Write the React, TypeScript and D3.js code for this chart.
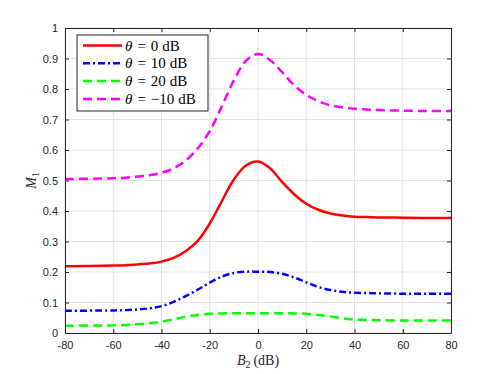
import React, { useEffect, useRef } from 'react';
import * as d3 from 'd3';

// --- Data ---
const b2Values = [-80, -60, -55, -50, -45, -40, -35, -30, -25, -20, -15, -10, -5, 0, 5, 10, 15, 20, 25, 30, 35, 40, 45, 50, 60, 70, 80];
const theta0 = [0.219, 0.221, 0.222, 0.225, 0.228, 0.234, 0.246, 0.268, 0.302, 0.359, 0.432, 0.503, 0.549, 0.562, 0.540, 0.495, 0.455, 0.424, 0.404, 0.392, 0.385, 0.381, 0.380, 0.379, 0.378, 0.377, 0.377];
const theta10 = [0.073, 0.074, 0.075, 0.077, 0.081, 0.088, 0.102, 0.121, 0.142, 0.165, 0.185, 0.197, 0.201, 0.201, 0.200, 0.194, 0.182, 0.166, 0.151, 0.141, 0.135, 0.132, 0.131, 0.130, 0.129, 0.129, 0.129];
const theta20 = [0.024, 0.025, 0.026, 0.029, 0.032, 0.037, 0.045, 0.053, 0.059, 0.063, 0.064, 0.065, 0.065, 0.065, 0.065, 0.065, 0.064, 0.063, 0.059, 0.054, 0.048, 0.044, 0.043, 0.042, 0.041, 0.041, 0.041];
const thetaMinus10 = [0.505, 0.507, 0.509, 0.513, 0.517, 0.525, 0.540, 0.565, 0.605, 0.662, 0.743, 0.828, 0.892, 0.915, 0.895, 0.855, 0.812, 0.781, 0.760, 0.747, 0.740, 0.735, 0.733, 0.731, 0.729, 0.728, 0.728];
const seriesLabels = ['0', '10', '20', '\u221210'];
const xTicks = [-80, -60, -40, -20, 0, 20, 40, 60, 80];
const yTicks = [0, 0.1, 0.2, 0.3, 0.4, 0.5, 0.6, 0.7, 0.8, 0.9, 1];

const seriesStyles = [
  { color: '#ff0000', dash: null },
  { color: '#0000ff', dash: '7,3,2,3' },
  { color: '#00ff00', dash: '9,5' },
  { color: '#ff00ff', dash: '9,5' },
];

const App = () => {
  const ref = useRef(null);

  useEffect(() => {
    const W = 498, H = 374;
    const margin = { top: 28, right: 47, bottom: 41, left: 65 };
    const svg = d3.select(ref.current);
    svg.selectAll('*').remove();

    const x = d3.scaleLinear().domain([-80, 80]).range([margin.left, W - margin.right]);
    const y = d3.scaleLinear().domain([0, 1]).range([H - margin.bottom, margin.top]);
    const axisColor = '#262626';
    const tickFont = '"Liberation Sans", Arial, sans-serif';
    const serif = '"Liberation Serif", "Times New Roman", serif';

    // grid
    const grid = svg.append('g');
    grid.selectAll('.gx').data(xTicks).enter().append('line')
      .attr('x1', d => x(d)).attr('x2', d => x(d))
      .attr('y1', y(0)).attr('y2', y(1))
      .attr('stroke', '#e3e3e3').attr('stroke-width', 1);
    grid.selectAll('.gy').data(yTicks).enter().append('line')
      .attr('x1', x(-80)).attr('x2', x(80))
      .attr('y1', d => y(d)).attr('y2', d => y(d))
      .attr('stroke', '#e3e3e3').attr('stroke-width', 1);

    // curves
    const allSeries = [theta0, theta10, theta20, thetaMinus10];
    const line = d3.line<number>()
      .x((d, i) => x(b2Values[i]))
      .y(d => y(d))
      .curve(d3.curveCatmullRom.alpha(0.5));
    allSeries.forEach((vals, k) => {
      const p = svg.append('path')
        .attr('d', line(vals))
        .attr('fill', 'none')
        .attr('stroke', seriesStyles[k].color)
        .attr('stroke-width', 2.5);
      if (seriesStyles[k].dash) p.attr('stroke-dasharray', seriesStyles[k].dash);
    });

    // axes (box with inward ticks)
    const xAxisB = d3.axisBottom(x).tickValues(xTicks).tickSizeInner(-4).tickSizeOuter(0).tickPadding(8).tickFormat(d => String(d));
    const xAxisT = d3.axisTop(x).tickValues(xTicks).tickSizeInner(-4).tickSizeOuter(0).tickFormat(() => '');
    const yAxisL = d3.axisLeft(y).tickValues(yTicks).tickSizeInner(-4).tickSizeOuter(0).tickPadding(7).tickFormat(d => (d === 0 || d === 1) ? String(d) : d3.format('.1f')(d));
    const yAxisR = d3.axisRight(y).tickValues(yTicks).tickSizeInner(-4).tickSizeOuter(0).tickFormat(() => '');

    const styleAxis = g => {
      g.select('.domain').attr('stroke', axisColor).attr('stroke-width', 1);
      g.selectAll('.tick line').attr('stroke', axisColor).attr('stroke-width', 1);
      g.selectAll('.tick text').attr('fill', axisColor).style('font-size', '11px').style('font-family', tickFont);
    };
    svg.append('g').attr('transform', `translate(0,${y(0)})`).call(xAxisB).call(styleAxis);
    svg.append('g').attr('transform', `translate(0,${y(1)})`).call(xAxisT).call(styleAxis);
    svg.append('g').attr('transform', `translate(${x(-80)},0)`).call(yAxisL).call(styleAxis);
    svg.append('g').attr('transform', `translate(${x(80)},0)`).call(yAxisR).call(styleAxis);

    // axis labels
    const xl = svg.append('text').attr('x', x(0)).attr('y', 365)
      .attr('text-anchor', 'middle').style('font-family', serif).style('font-size', '14px').attr('fill', axisColor);
    xl.append('tspan').style('font-style', 'italic').text('B');
    xl.append('tspan').attr('dy', 3).style('font-size', '10px').text('2');
    xl.append('tspan').attr('dy', -3).attr('dx', 3).text('(dB)');

    const yl = svg.append('text').attr('transform', `translate(36,${y(0.5)}) rotate(-90)`)
      .attr('text-anchor', 'middle').style('font-family', serif).style('font-size', '14px').attr('fill', axisColor);
    yl.append('tspan').style('font-style', 'italic').text('M');
    yl.append('tspan').attr('dy', 3).style('font-size', '10px').text('1');

    // legend
    const lg = svg.append('g');
    lg.append('rect').attr('x', 77).attr('y', 35).attr('width', 131).attr('height', 76)
      .attr('fill', '#fff').attr('stroke', axisColor).attr('stroke-width', 1);
    seriesLabels.forEach((lab, k) => {
      const yy = 45.5 + k * 17.8;
      const l = lg.append('line').attr('x1', 83).attr('x2', 122).attr('y1', yy).attr('y2', yy)
        .attr('stroke', seriesStyles[k].color).attr('stroke-width', 2.5);
      if (seriesStyles[k].dash) l.attr('stroke-dasharray', seriesStyles[k].dash);
      const t = lg.append('text').attr('x', 125).attr('y', yy + 5)
        .style('font-family', serif).style('font-size', '15px').attr('fill', '#000');
      t.append('tspan').style('font-style', 'italic').text('\u03b8');
      t.append('tspan').attr('dx', 5).text('=');
      t.append('tspan').attr('dx', 5).text(lab);
      t.append('tspan').attr('dx', 4).text('dB');
    });
  }, []);

  return (
    <svg ref={ref} width={498} height={374}
      style={{ position: 'absolute', left: 0, top: 0, background: '#fff' }} />
  );
};

export default App;
